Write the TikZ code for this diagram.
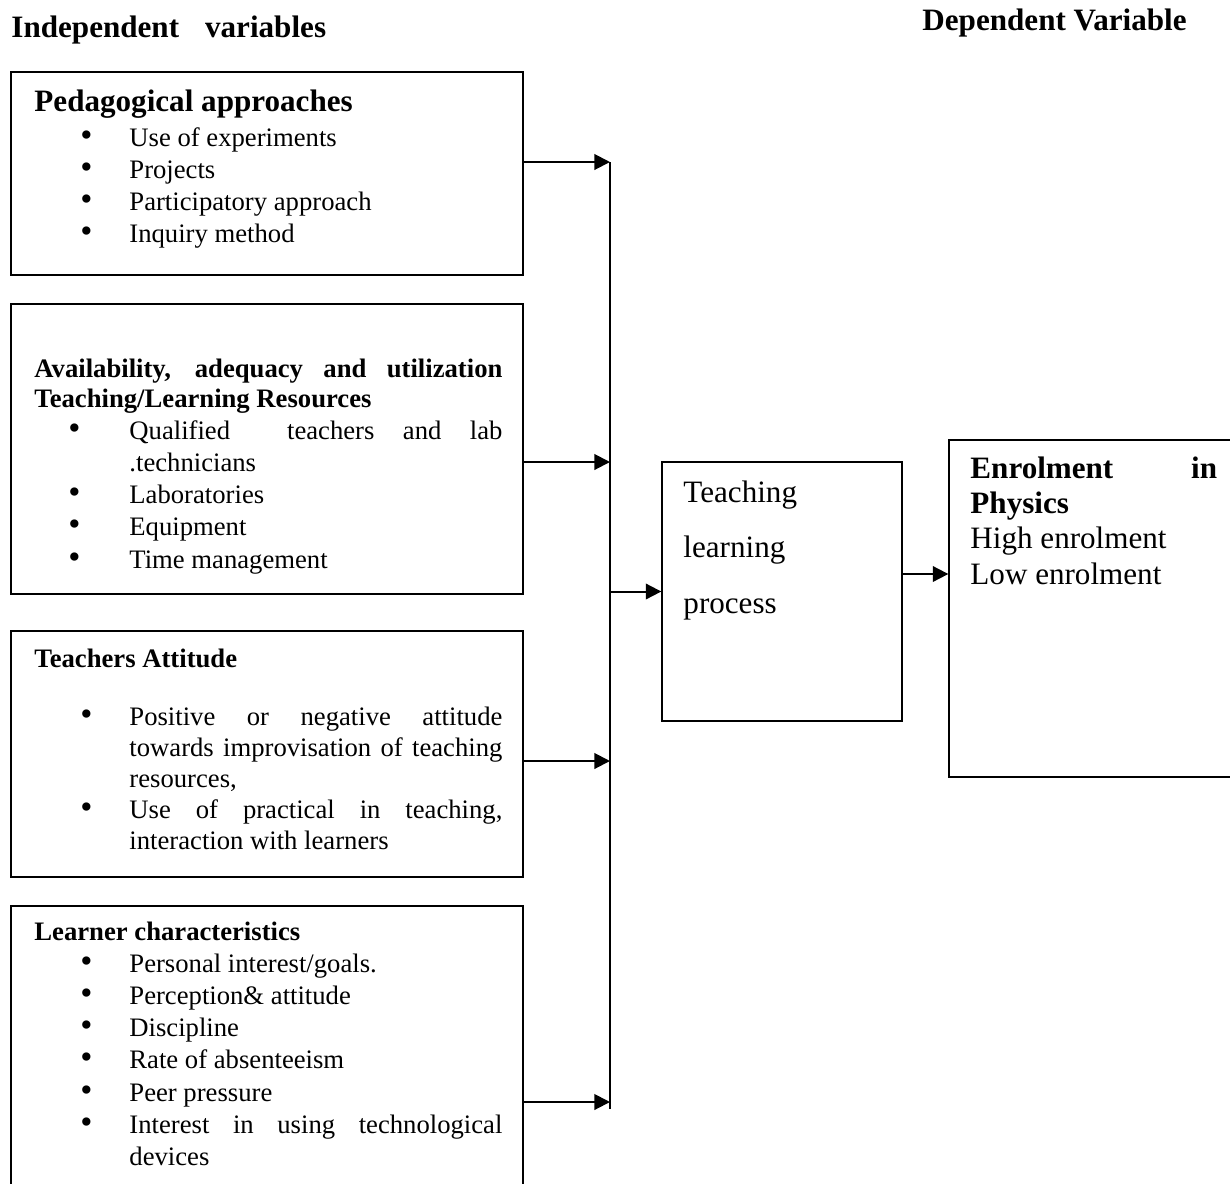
\documentclass[tikz,border=0pt]{standalone}
\usepackage{fontspec}
\setmainfont{Liberation Serif}
\usepackage{graphicx}
\usepackage{enumitem}
\usetikzlibrary{arrows.meta,fit}
\hyphenpenalty=10000
\hbadness=10000
\newcommand{\bulletmark}{\scalebox{1.3}{\textbullet}}
\newcommand{\boxtext}[2]{\begin{minipage}[t]{#1}#2\end{minipage}}
\setlist[itemize]{nosep,leftmargin=42.75pt,labelwidth=0pt,labelsep=19.35pt,label=\makebox[0pt]{\bulletmark}}
\begin{document}
\begin{tikzpicture}[x=0.45pt,y=-0.45pt,
	box/.style={draw=black,line width=0.6pt,inner sep=0pt},
	bus/.style={draw=black,line width=0.9pt},
	arr/.style={bus,-{Triangle[length=7pt,width=7pt]}},
	txt/.style={anchor=base west,inner sep=0pt}]
	\useasboundingbox (0,0) rectangle (1230,1183);
	\clip (0,0) rectangle (1230,1183);
	\node [txt,font=\fontsize{14}{16}\selectfont\bfseries] (indep) at (11,37) {Independent\hspace{11.7pt}variables};
	\node [txt,font=\fontsize{14}{16}\selectfont\bfseries] (dep) at (922,30) {Dependent Variable};
	\node [box,fit={(11,72) (523,275)}] (pedag) {};
	\node [box,fit={(11,304) (523,594)}] (resources) {};
	\node [box,fit={(11,631) (523,877)}] (attitude) {};
	\node [box,fit={(11,906) (523,1220)}] (learner) {};
	\node [box,fit={(662,462) (902,721)}] (process) {};
	\node [box,fit={(949,440) (1250,777)}] (enrol) {};
	\node [txt] (pedagtxt) at (34,111) {\boxtext{210.6pt}{\fontsize{12}{14.5}\selectfont
		{\fontsize{14}{16}\selectfont\bfseries Pedagogical approaches\par}\vspace{1.25pt}
		\begin{itemize}
			\item Use of experiments
			\item Projects
			\item Participatory approach
			\item Inquiry method
		\end{itemize}}};
	\node [txt] (resourcestxt) at (34,377) {\boxtext{210.6pt}{\fontsize{12}{14.5}\selectfont
		{\fontsize{12}{13.5}\selectfont\bfseries Availability, adequacy and utilization\linebreak Teaching/Learning Resources\par}
		\begin{itemize}[labelsep=24.75pt]
			\item Qualified\ \ teachers and lab\linebreak .technicians
			\item Laboratories
			\item Equipment
			\item Time management
		\end{itemize}}};
	\node [txt] (attitudetxt) at (34,667) {\boxtext{210.6pt}{\fontsize{12}{14}\selectfont
		{\bfseries Teachers Attitude\par}\vspace{12.1pt}
		\begin{itemize}
			\item Positive or negative attitude\linebreak towards improvisation of teaching\linebreak resources,
			\item Use of practical in teaching,\linebreak interaction with learners
		\end{itemize}}};
	\node [txt] (learnertxt) at (34,940) {\boxtext{210.6pt}{\fontsize{12}{14.5}\selectfont
		{\bfseries Learner characteristics\par}
		\begin{itemize}
			\item Personal interest/goals.
			\item Perception\& attitude
			\item Discipline
			\item Rate of absenteeism
			\item Peer pressure
			\item Interest in using technological\linebreak devices
		\end{itemize}}};
	\node [txt] (processtxt) at (683,502) {\boxtext{90pt}{\fontsize{14}{25}\selectfont\raggedright
		Teaching\par learning\par process}};
	\node [txt] (enroltxt) at (970,478) {\boxtext{111pt}{\fontsize{14}{15.9}\selectfont
		{\bfseries Enrolment in\linebreak Physics\par}
		High enrolment\par
		Low enrolment}};
	\coordinate (bus1) at (610,162);
	\coordinate (bus2) at (610,462);
	\coordinate (bus3) at (610,761);
	\coordinate (bus4) at (610,1102);
	\coordinate (busend) at (610,1109);
	\coordinate (link) at (925,574);
	\draw [bus] (bus1) -- (busend);
	\draw [arr] (pedag.east |- bus1) -- (bus1);
	\draw [arr] (resources.east |- bus2) -- (bus2);
	\draw [arr] (attitude.east |- bus3) -- (bus3);
	\draw [arr] (learner.east |- bus4) -- (bus4);
	\draw [arr] (process.west -| bus1) -- (process.west);
	\draw [arr] (process.east |- link) -- (enrol.west |- link);
\end{tikzpicture}
\end{document}
